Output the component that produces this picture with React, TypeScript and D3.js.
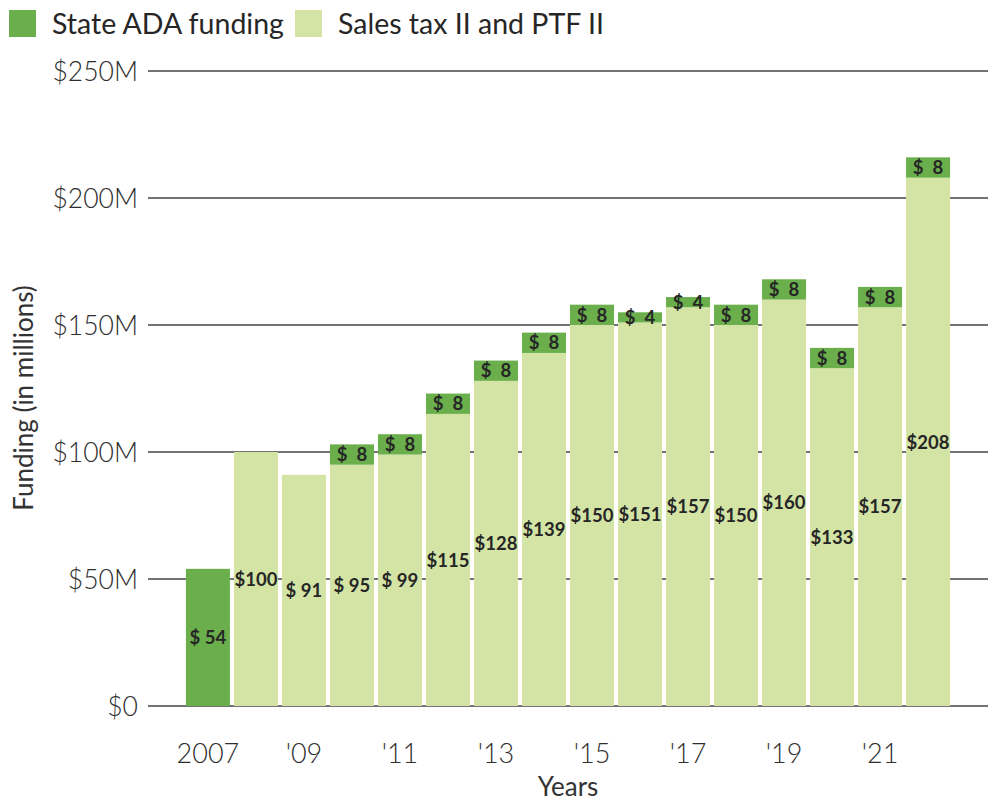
import React from "react";
import * as d3 from "d3";

const years = ["2007","2008","2009","2010","2011","2012","2013","2014","2015","2016","2017","2018","2019","2020","2021","2022"];
const tickYears = ["2007","2009","2011","2013","2015","2017","2019","2021"];
const tickYearLabels = ["2007","'09","'11","'13","'15","'17","'19","'21"];
const stateAda = [54, 0, 0, 8, 8, 8, 8, 8, 8, 4, 4, 8, 8, 8, 8, 8];
const salesTax = [0, 100, 91, 95, 99, 115, 128, 139, 150, 151, 157, 150, 160, 133, 157, 208];
const yTicks = [0, 50, 100, 150, 200, 250];

const DARK = "#6aaf4c";
const LIGHT = "#d3e4a5";
const TEXT = "#262626";
const FONT = "Lato, 'Open Sans', sans-serif";

function fmt(v: number) {
  const s = String(v);
  if (s.length < 3) return "$ " + s;
  return "$" + s;
}

export default function App() {
  const W = 988, H = 802;
  const x = d3.scaleBand<string>().domain(years).range([184, 952]).paddingInner(4 / 48).paddingOuter(0.04);
  const y = d3.scaleLinear().domain([0, 250]).range([706, 71]);

  return (
    <svg width={W} height={H} style={{ position: "absolute", left: 0, top: 0, background: "#fff" }} fontFamily={FONT}>
      {yTicks.map((t) => (
        <g key={t}>
          <line x1={148} x2={988} y1={y(t)} y2={y(t)} stroke="#444" strokeWidth={1.3} />
          <text x={138} y={y(t)} dy="0.36em" textAnchor="end" fontSize={26.5} fontWeight={300} fill="#2e2e2e">
            {"$" + t + (t === 0 ? "" : "M")}
          </text>
        </g>
      ))}
      {years.map((yr, i) => {
        const bx = x(yr)!;
        const bw = x.bandwidth();
        const s = salesTax[i];
        const a = stateAda[i];
        const isFirst = i === 0;
        return (
          <g key={yr}>
            {s > 0 && <rect x={bx} width={bw} y={y(s)} height={y(0) - y(s)} fill={LIGHT} />}
            {a > 0 && <rect x={bx} width={bw} y={y(s + a)} height={y(s) - y(s + a)} fill={DARK} />}
            {s > 0 && (
              <text x={bx + bw / 2} y={y(s / 2)} dy="0.36em" textAnchor="middle" fontSize={18.5} fontWeight={700} fill={TEXT}>
                {fmt(s)}
              </text>
            )}
            {a > 0 && (
              <text x={bx + bw / 2} y={isFirst ? y(a / 2) : y(s + a / 2)} dy="0.36em" textAnchor="middle" fontSize={18.5} fontWeight={700} fill={TEXT}
                style={{ whiteSpace: "pre" }}>
                {isFirst ? fmt(a) : "$  " + a}
              </text>
            )}
          </g>
        );
      })}
      {tickYears.map((yr, i) => (
        <text key={yr} x={x(yr)! + x.bandwidth() / 2} y={763} textAnchor="middle" fontSize={27} fontWeight={300} fill="#2e2e2e">
          {tickYearLabels[i]}
        </text>
      ))}
      <text x={568} y={796} textAnchor="middle" fontSize={26} fill="#333">Years</text>
      <text transform="translate(33,398) rotate(-90)" textAnchor="middle" fontSize={26} fill="#333">Funding (in millions)</text>
      <rect x={9} y={10} width={27} height={27} fill={DARK} />
      <text x={52} y={34} fontSize={28.5} fill={TEXT}>State ADA funding</text>
      <rect x={295} y={10} width={27} height={27} fill={LIGHT} />
      <text x={338} y={34} fontSize={28.5} fill={TEXT}>Sales tax II and PTF II</text>
    </svg>
  );
}
